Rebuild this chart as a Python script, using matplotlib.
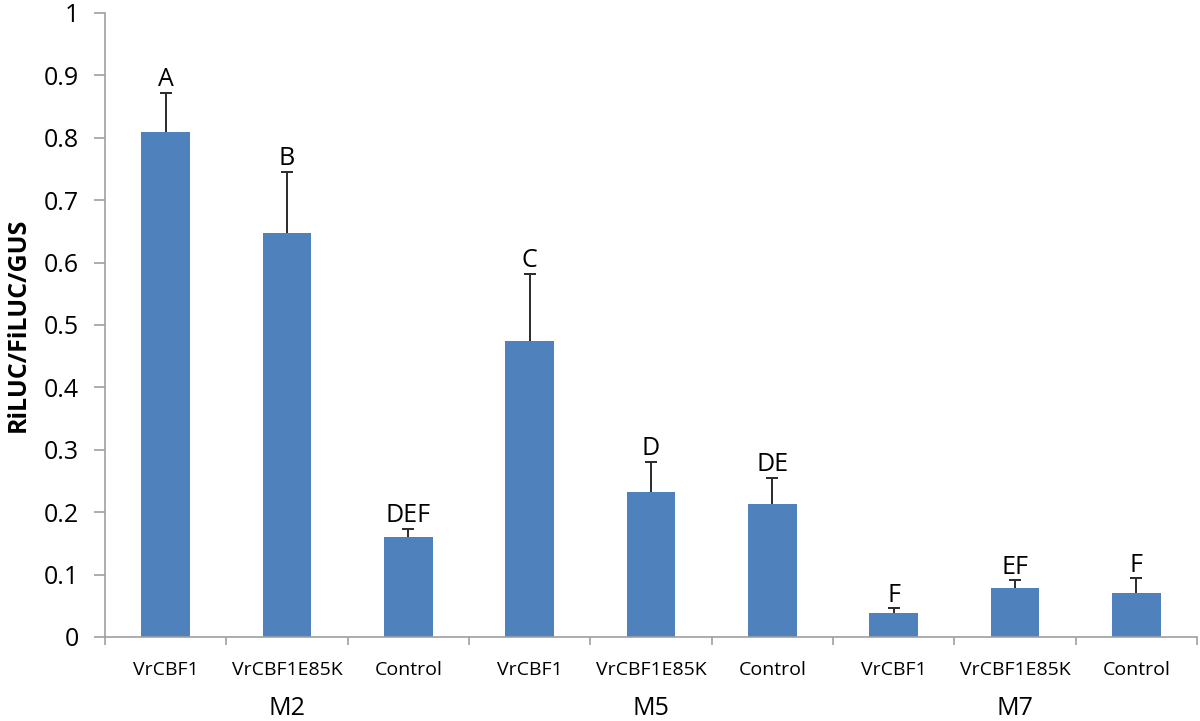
import numpy as np
import matplotlib.pyplot as plt

plt.rcParams['font.family'] = ['Open Sans', 'DejaVu Sans']

# data
constructs = ['VrCBF1', 'VrCBF1E85K', 'Control'] * 3
groups = ['M2', 'M5', 'M7']
means = [0.810, 0.647, 0.160, 0.474, 0.232, 0.213, 0.038, 0.078, 0.071]
errors = [0.062, 0.098, 0.013, 0.108, 0.049, 0.042, 0.008, 0.013, 0.023]
letters = ['A', 'B', 'DEF', 'C', 'D', 'DE', 'F', 'EF', 'F']

bar_color = '#4f81bd'
axis_color = '#a0a0a0'

fig = plt.figure(figsize=(12, 7.21), dpi=100)
ax = fig.add_axes([105 / 1200, 84 / 721, (1197 - 105) / 1200, 624 / 721])

x = np.arange(len(means))
ax.bar(x, means, width=0.4, color=bar_color, zorder=2)
# upper error bars only, single cap at the top
tops = np.array(means) + np.array(errors)
ax.vlines(x, means, tops, color='#2a2a2a', linewidth=1.4, zorder=3)
ax.plot(x, tops, linestyle='none', marker='_', markersize=8,
        markeredgewidth=1.4, color='#2a2a2a', zorder=3)

for xi, t, lab in zip(x, tops, letters):
    ax.text(xi, t + 0.001, lab, ha='center', va='bottom', fontsize=18)

ax.set_xlim(-0.5, len(means) - 0.5)
ax.set_ylim(0, 1)
ax.set_yticks(np.arange(0, 1.01, 0.1))
ax.set_yticklabels(['0'] + [f'{v:.1f}' for v in np.arange(0.1, 0.95, 0.1)] + ['1'])
ax.tick_params(axis='y', labelsize=18, length=8, color=axis_color, width=1.2, pad=11)

# category labels between boundary ticks
ax.set_xticks(np.arange(-0.5, len(means), 1))
ax.set_xticklabels([])
ax.tick_params(axis='x', length=6, color=axis_color, width=1.2)
for xi, c in zip(x, constructs):
    ax.text(xi, -0.053, c, ha='center', va='center', fontsize=14,
            transform=ax.get_xaxis_transform())
for i, g in enumerate(groups):
    ax.text(3 * i + 1, -0.114, g, ha='center', va='center', fontsize=18,
            transform=ax.get_xaxis_transform())

for side in ['top', 'right']:
    ax.spines[side].set_visible(False)
for side in ['left', 'bottom']:
    ax.spines[side].set_color(axis_color)
    ax.spines[side].set_linewidth(1.2)

ax.set_ylabel('RiLUC/FiLUC/GUS', fontsize=18, fontweight='bold')
ax.yaxis.set_label_coords(-0.068, 0.5)

fig.savefig('out.png', dpi=100)
